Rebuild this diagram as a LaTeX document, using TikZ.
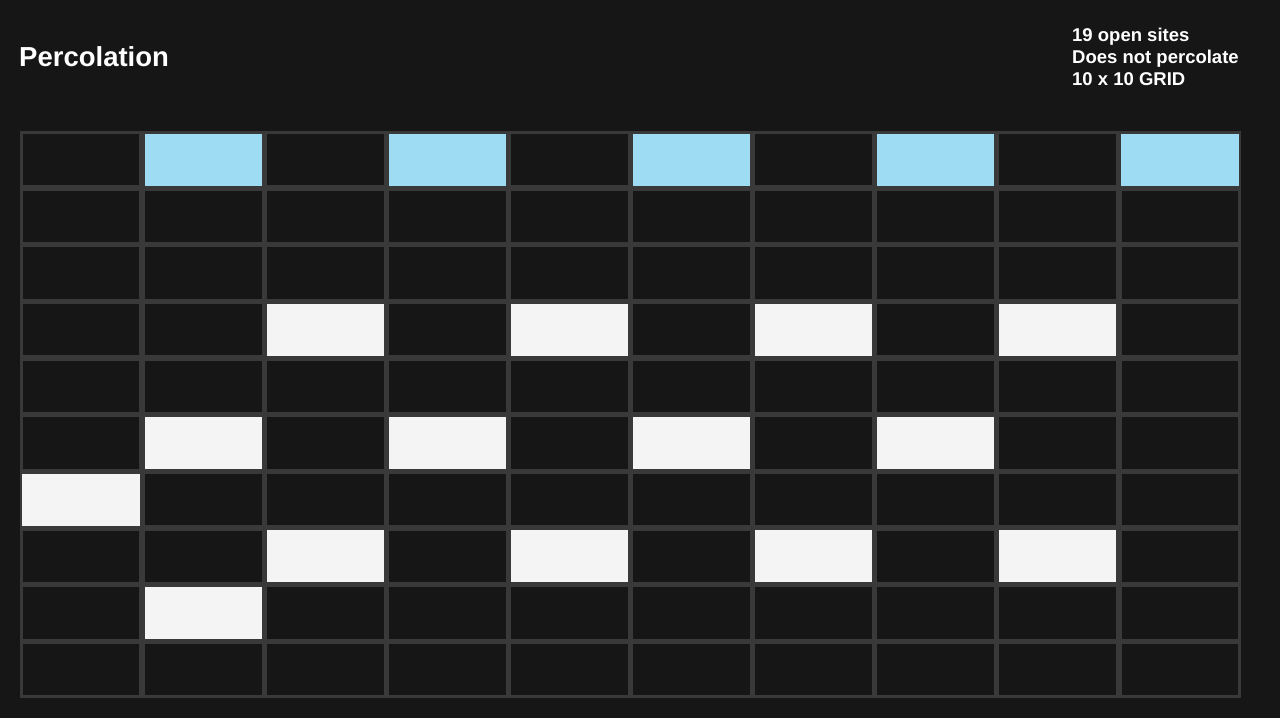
\documentclass[tikz,border=0pt]{standalone}
\usepackage{fontspec}
\setmainfont{Liberation Sans}
\usepackage{tikz}
\usetikzlibrary{positioning}
\definecolor{bgdark}{HTML}{161616}
\definecolor{gridline}{HTML}{393939}
\definecolor{fullblue}{HTML}{9EDCF3}
\definecolor{openwhite}{HTML}{F4F4F4}

\begin{document}
\begin{tikzpicture}[
        x=1pt, y=-1pt,
        site/.style={fill=bgdark, inner sep=0pt, minimum width=116.8pt, minimum height=51.4pt},
        title/.style={font=\fontsize{27.5}{33}\selectfont\bfseries, text=white, inner sep=0pt},
        stats/.style={font=\fontsize{18.5}{22}\selectfont\bfseries, text=white, align=left, inner sep=0pt}
    ]
    % --- Canvas ---
    \fill[bgdark] (0,0) rectangle (1280,718);
    \useasboundingbox (0,0) rectangle (1280,718);

    % --- Header ---
    \node[title, anchor=base west] (head) at (19,66.7) {Percolation};
    \node[stats, anchor=base west] (info1) at (1072,41) {19 open sites};
    \node[stats, anchor=base west] (info2) at (1072,63) {Does not percolate};
    \node[stats, anchor=base west] (info3) at (1072,85) {10 x 10 GRID};

    % --- 10 x 10 grid of sites ---
    \fill[gridline] (20,131.3) rectangle (1241,698);
    \foreach \r in {0,...,9}
        \foreach \c in {0,...,9}
            \node[site] (s\r\c) at ({20+122.1*(\c+0.5)},{131.3+56.67*(\r+0.5)}) {};

    % full sites (top row)
    \foreach \r/\c in {0/1,0/3,0/5,0/7,0/9}
        \fill[fullblue] (s\r\c.south west) rectangle (s\r\c.north east);

    % open sites
    \foreach \r/\c in {3/2,3/4,3/6,3/8,5/1,5/3,5/5,5/7,6/0,7/2,7/4,7/6,7/8,8/1}
        \fill[openwhite] (s\r\c.south west) rectangle (s\r\c.north east);
\end{tikzpicture}
\end{document}
